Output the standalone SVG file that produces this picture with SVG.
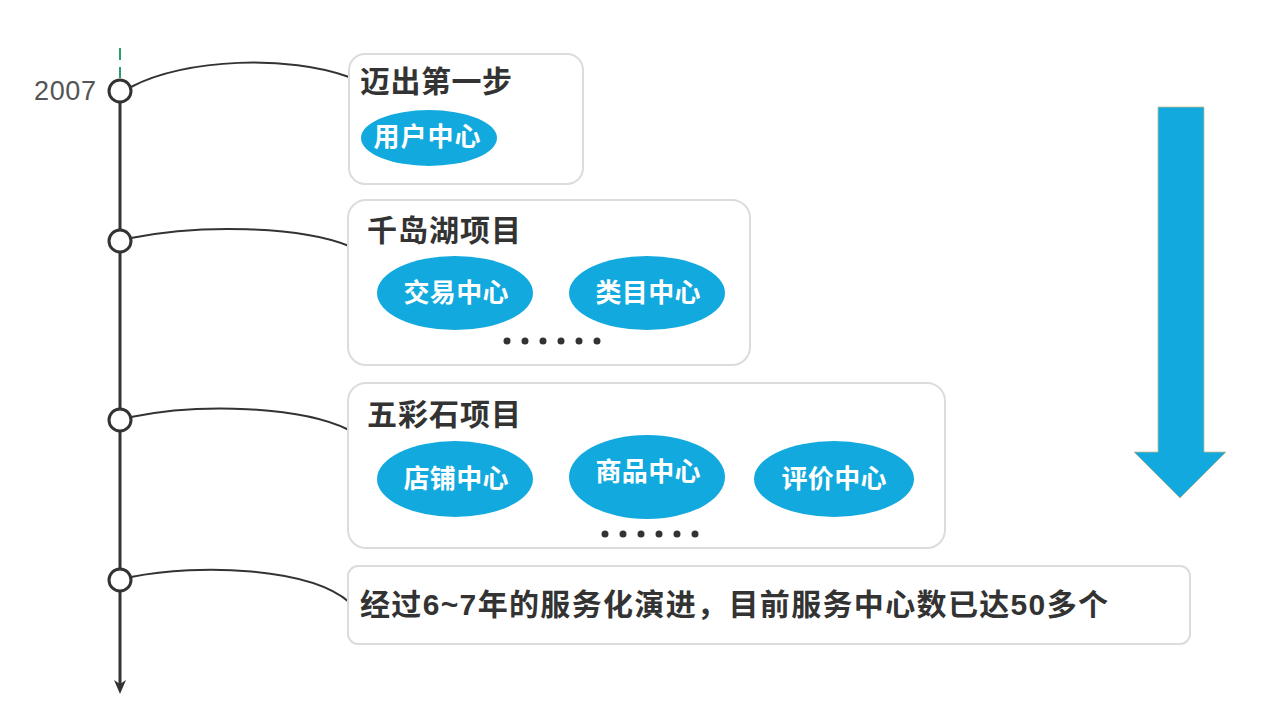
<svg xmlns="http://www.w3.org/2000/svg" width="1280" height="715" viewBox="0 0 1280 715">
<defs>
<style>
.box{fill:#fff;stroke:#dcdcdc;stroke-width:2}
.ttl{font-family:"Liberation Sans","Noto Sans CJK SC",sans-serif;font-weight:bold;font-size:30px;fill:#333}
.ell{fill:#12a9de}
.et{font-family:"Liberation Sans","Noto Sans CJK SC",sans-serif;font-weight:bold;font-size:26px;fill:#fff;text-anchor:middle}
.dot{fill:#333}
.con{fill:none;stroke:#333;stroke-width:2}
.node{fill:#fff;stroke:#333;stroke-width:3}
</style>
</defs>
<rect width="1280" height="715" fill="#fff"/>

<g id="timeline">
<line x1="120" y1="48" x2="120" y2="60" stroke="#2a9d6a" stroke-width="2"/>
<line x1="120" y1="67" x2="120" y2="78" stroke="#2a9d6a" stroke-width="2"/>
<line x1="120" y1="100" x2="120" y2="684" stroke="#333" stroke-width="3"/>
<path d="M114,680 L120,694 L126,680 L120,684 Z" fill="#333"/>
<text x="96" y="100" text-anchor="end" textLength="62" style="font-family:'Liberation Sans','Noto Sans',sans-serif;font-size:27px;fill:#555">2007</text>
<circle class="node" cx="120" cy="91" r="11"/>
<circle class="node" cx="120" cy="241" r="11"/>
<circle class="node" cx="120" cy="420" r="11"/>
<circle class="node" cx="120" cy="580" r="11"/>
</g>

<g id="connectors">
<path class="con" d="M131,87 C185,58 290,55 349,77"/>
<path class="con" d="M131,238 C200,224 300,226 349,246"/>
<path class="con" d="M131,417 C200,403 300,406 349,430"/>
<path class="con" d="M131,577 C200,563 310,568 349,602"/>
</g>

<g id="step1">
<rect class="box" x="349" y="54" width="234" height="130" rx="16"/>
<text class="ttl" x="360" y="92" textLength="152">迈出第一步</text>
<ellipse class="ell" cx="429" cy="138" rx="68" ry="28"/>
<text class="et" x="427" y="146" textLength="107">用户中心</text>
</g>

<g id="step2">
<rect class="box" x="348" y="200" width="402" height="165" rx="18"/>
<text class="ttl" x="367" y="241" textLength="154">千岛湖项目</text>
<ellipse class="ell" cx="455" cy="293" rx="78" ry="37"/>
<text class="et" x="456" y="302" textLength="105">交易中心</text>
<ellipse class="ell" cx="647" cy="293" rx="78" ry="37"/>
<text class="et" x="648" y="302" textLength="105">类目中心</text>
<circle class="dot" cx="507" cy="341" r="3.5"/>
<circle class="dot" cx="525" cy="341" r="3.5"/>
<circle class="dot" cx="543" cy="341" r="3.5"/>
<circle class="dot" cx="561" cy="341" r="3.5"/>
<circle class="dot" cx="579" cy="341" r="3.5"/>
<circle class="dot" cx="597" cy="341" r="3.5"/>
</g>

<g id="step3">
<rect class="box" x="348" y="383" width="597" height="165" rx="18"/>
<text class="ttl" x="367" y="425" textLength="154">五彩石项目</text>
<ellipse class="ell" cx="455" cy="479" rx="78" ry="38"/>
<text class="et" x="456" y="488" textLength="105">店铺中心</text>
<ellipse class="ell" cx="647" cy="477" rx="78" ry="42"/>
<text class="et" x="648" y="481" textLength="105">商品中心</text>
<ellipse class="ell" cx="834" cy="479" rx="80" ry="38"/>
<text class="et" x="834" y="488" textLength="105">评价中心</text>
<circle class="dot" cx="605" cy="534" r="3.5"/>
<circle class="dot" cx="623" cy="534" r="3.5"/>
<circle class="dot" cx="641" cy="534" r="3.5"/>
<circle class="dot" cx="659" cy="534" r="3.5"/>
<circle class="dot" cx="677" cy="534" r="3.5"/>
<circle class="dot" cx="695" cy="534" r="3.5"/>
</g>

<g id="step4">
<rect class="box" x="348" y="566" width="842" height="78" rx="10"/>
<text class="ttl" x="360" y="615" textLength="748">经过6~7年的服务化演进，目前服务中心数已达50多个</text>
</g>

<g id="bigArrow">
<path d="M1158,107 L1204,107 L1204,452 L1226,452 L1180,498 L1134,452 L1158,452 Z" fill="#12a9de" stroke="#c9b98a" stroke-width="0.8"/>
</g>
</svg>
